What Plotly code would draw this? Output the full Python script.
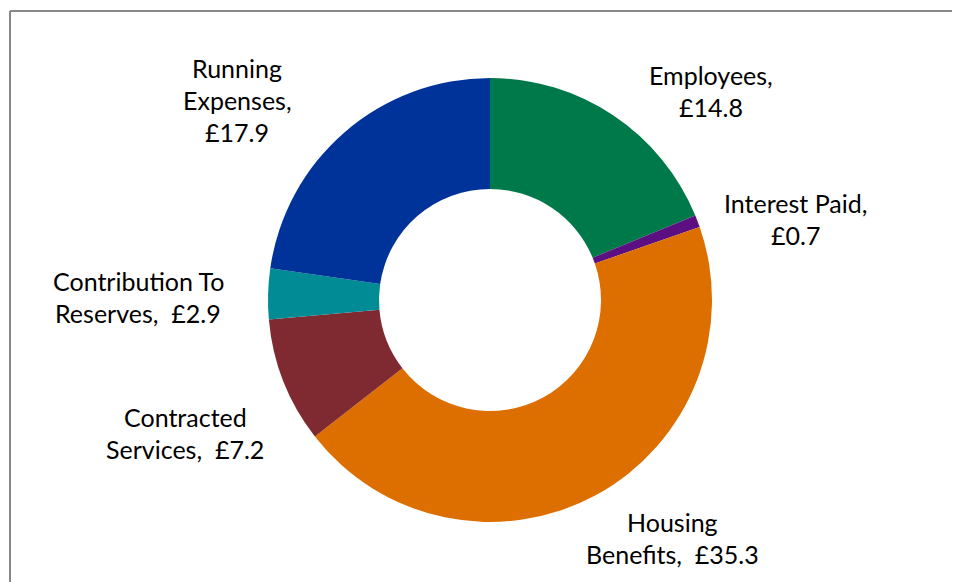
import plotly.graph_objects as go

W, H = 960, 582
OFF = 8  # the page puts the plot 8px in from the top-left corner

# data
categories = ["Employees", "Interest Paid", "Housing Benefits", "Contracted Services",
              "Contribution To Reserves", "Running Expenses"]
values = [14.8, 0.7, 35.3, 7.2, 2.9, 17.9]
colors = ["#00794A", "#5B0F80", "#DD6F00", "#7F2A30", "#008B95", "#003399"]

# how each label is broken over lines (name part, and what joins it to the value)
name_wrapped = ["Employees", "Interest Paid", "Housing\nBenefits", "Contracted\nServices",
                "Contribution To\nReserves", "Running\nExpenses"]
value_join = ["\n", "\n", "  ", "  ", "  ", "\n"]

# label centre of first line, in pixels from top-left of the window
label_pos = [(711, 75), (795, 203), (672, 522), (185, 417), (138, 281), (237, 68)]
line_gap = 32

cx, cy, r = 490 - OFF, 300 - OFF, 222


def px_x(x):
    return (x - OFF) / W


def px_y(y):
    return 1 - (y - OFF) / H


fig = go.Figure(
    go.Pie(
        labels=categories,
        values=values,
        hole=0.5,
        sort=False,
        direction="clockwise",
        rotation=0,
        marker=dict(colors=colors, line=dict(width=0)),
        textinfo="none",
        hoverinfo="label+value",
        domain=dict(
            x=[(cx - r) / W, (cx + r) / W],
            y=[(H - cy - r) / H, (H - cy + r) / H],
        ),
    )
)

annotations = []
for name, join, v, (px, py) in zip(name_wrapped, value_join, values, label_pos):
    text = f"{name},{join}£{v}"
    for i, line in enumerate(text.split("\n")):
        annotations.append(
            dict(
                text=line,
                x=px_x(px),
                y=px_y(py + i * line_gap),
                xref="paper",
                yref="paper",
                xanchor="center",
                yanchor="middle",
                showarrow=False,
                font=dict(size=25, color="#000000", family="Lato"),
            )
        )

fig.update_layout(
    width=W,
    height=H,
    margin=dict(l=0, r=0, t=0, b=0),
    paper_bgcolor="white",
    plot_bgcolor="white",
    showlegend=False,
    annotations=annotations,
    shapes=[
        dict(type="line", xref="paper", yref="paper", x0=px_x(10), x1=1, y0=px_y(11), y1=px_y(11),
             line=dict(color="#878787", width=2)),
        dict(type="line", xref="paper", yref="paper", x0=px_x(10), x1=px_x(10), y0=0, y1=px_y(11),
             line=dict(color="#878787", width=2)),
    ],
)

fig.write_html("out.html")
